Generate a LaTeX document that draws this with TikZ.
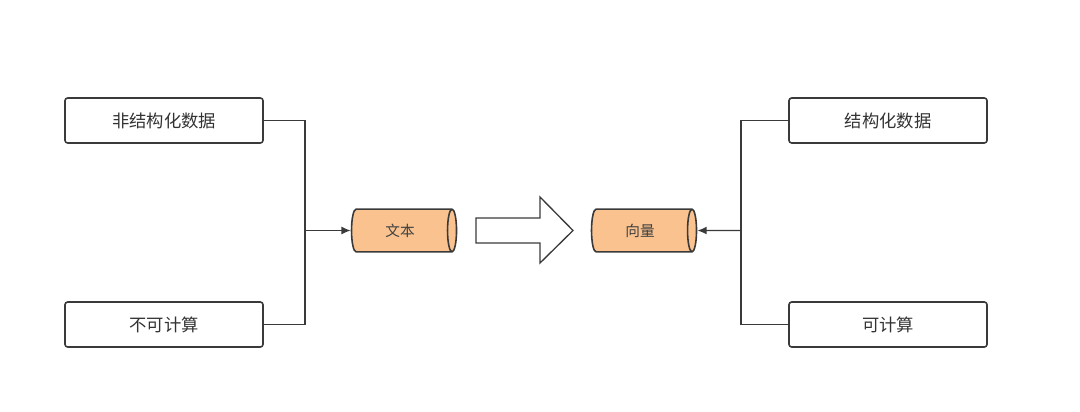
\documentclass[tikz,border=0pt]{standalone}
\usepackage{fontspec}
\setmainfont{Noto Sans CJK SC}
\usetikzlibrary{shapes.geometric,arrows.meta}
\definecolor{drum}{HTML}{F9C28F}
\definecolor{edge}{HTML}{3A3A3A}
\tikzset{
  databox/.style={draw=edge, line width=1.2pt, rounded corners=2pt, minimum width=148.5pt, minimum height=33.75pt, font=\fontsize{13}{13}\selectfont, text=black!80},
  drum/.style={cylinder, shape border rotate=0, aspect=0.4, draw=edge, line width=1.2pt, fill=drum, minimum height=78.75pt, minimum width=32pt, font=\fontsize{11}{11}\selectfont, text=black!75},
  wire/.style={draw=edge, line width=1.1pt},
  tip/.style={wire, -{Latex[length=7pt,width=6pt]}}
}
\begin{document}
\begin{tikzpicture}[x=0.75pt, y=-0.75pt]
  \useasboundingbox (0,0) rectangle (1080,411);

  % left side
  \node[databox] (unstruct) at (164,120.5) {非结构化数据};
  \node[databox] (nocalc) at (164,324.5) {不可计算};
  \node[drum] (text) at (400,230.5) {文本};
  \coordinate (ljoin) at (305,230.5);
  \draw[wire] (unstruct.east) -| (ljoin) |- (nocalc.east);
  \draw[tip] (ljoin) -- (text.west);

  % right side
  \node[databox] (struct) at (888,120.5) {结构化数据};
  \node[databox] (calc) at (888,324.5) {可计算};
  \node[drum] (vector) at (640,230.5) {向量};
  \coordinate (rjoin) at (741,230.5);
  \draw[wire] (struct.west) -| (rjoin) |- (calc.west);
  \draw[tip] (rjoin) -- (vector.east);

  % big arrow
  \draw[edge, line width=1pt] (476,218) -- (540,218) -- (540,197) -- (573,230.5)
    -- (540,263) -- (540,243) -- (476,243) -- cycle;
\end{tikzpicture}
\end{document}
